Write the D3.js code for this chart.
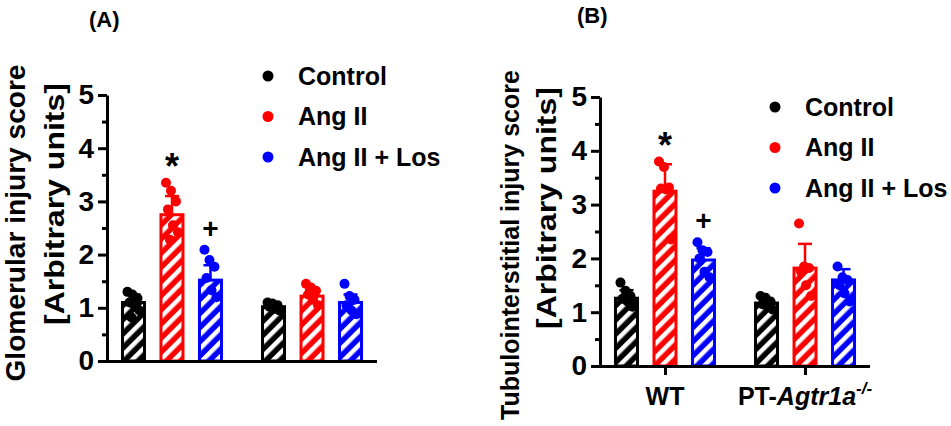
<!DOCTYPE html>
<html>
<head>
<meta charset="utf-8">
<script src="https://cdn.jsdelivr.net/npm/d3@7"></script>
<style>
  body { margin: 0; background: #fff; }
  svg { display: block; }
</style>
</head>
<body>
<div id="chart"></div>
<script>
// data
const series = ["Control", "Ang II", "Ang II + Los"];
const groups = ["WT", "PT"];
const yTicks = [0, 1, 2, 3, 4, 5];

// panel A: glomerular injury score
const meanA = [[1.10, 2.75, 1.52], [1.02, 1.22, 1.10]];
const sdA = [[0.15, 0.35, 0.28], [0.05, 0.12, 0.15]];
const pointsA = [
  [[1.30, 1.25, 1.18, 1.10, 1.05, 0.95, 0.82], [3.35, 3.20, 3.00, 2.85, 2.55, 2.42, 2.28], [2.09, 1.90, 1.77, 1.56, 1.33, 1.20]],
  [[1.10, 1.08, 1.05, 1.02, 0.98, 0.95], [1.45, 1.38, 1.32, 1.25, 1.15, 1.05], [1.45, 1.22, 1.15, 1.05, 0.95, 0.88]]
];

// panel B: tubulointerstitial injury score
const meanB = [[1.26, 3.25, 1.97], [1.17, 1.82, 1.60]];
const sdB = [[0.15, 0.50, 0.22], [0.08, 0.45, 0.20]];
const pointsB = [
  [[1.55, 1.40, 1.30, 1.25, 1.20, 1.10], [3.80, 3.70, 3.32, 3.30, 3.28, 2.35], [2.30, 2.15, 2.12, 2.00, 1.75, 1.65]],
  [[1.30, 1.27, 1.20, 1.15, 1.10, 1.05], [2.65, 1.85, 1.82, 1.75, 1.50, 1.30], [1.85, 1.65, 1.60, 1.50, 1.35, 1.20]]
];

const colors = ["#000000", "#ff0000", "#0000ff"];
const font = "'Liberation Sans', Arial, Helvetica, sans-serif";

let svg = d3.select("#chart").append("svg")
  .attr("width", 951)
  .attr("height", 426)
  .style("font-family", font);

// hatch patterns (white "/" stripes over the series colour)
let defs = svg.append("defs");
colors.forEach((c, i) => {
  let p = defs.append("pattern")
    .attr("id", "hatch-" + i)
    .attr("patternUnits", "userSpaceOnUse")
    .attr("width", 10).attr("height", 10)
    .attr("patternTransform", "rotate(45)");
  p.append("rect").attr("width", 10).attr("height", 10).attr("fill", c);
  p.append("rect").attr("width", 4.5).attr("height", 10).attr("fill", "#fff");
});

function drawPanel(cfg) {
  let g = svg.append("g").attr("transform", "translate(" + cfg.x0 + ",0)");
  let y = d3.scaleLinear().domain([0, 5]).range([cfg.y0, cfg.yTop]);
  let x = d3.scalePoint().domain(groups).range([0, 270]).padding(0.464);
  let xs = d3.scalePoint().domain(series).range([-38.5, 38.5]);

  // bars
  cfg.mean.forEach((row, gi) => {
    row.forEach((m, si) => {
      let cx = x(groups[gi]) + xs(series[si]);
      g.append("rect")
        .attr("x", cx - 11)
        .attr("y", y(m))
        .attr("width", 22)
        .attr("height", y(0) - y(m))
        .attr("fill", "url(#hatch-" + si + ")")
        .attr("stroke", colors[si])
        .attr("stroke-width", 3);
      // error bar (upper only)
      let top = y(m + cfg.sd[gi][si]);
      g.append("line")
        .attr("x1", cx).attr("x2", cx)
        .attr("y1", y(m)).attr("y2", top)
        .attr("stroke", colors[si]).attr("stroke-width", 2.5);
      g.append("line")
        .attr("x1", cx - 7).attr("x2", cx + 7)
        .attr("y1", top).attr("y2", top)
        .attr("stroke", colors[si]).attr("stroke-width", 2.5);
      // individual points
      g.selectAll(null)
        .data(cfg.points[gi][si])
        .enter().append("circle")
        .attr("cx", (d, i) => cx + ((i * 5) % 13) - 6)
        .attr("cy", d => y(d))
        .attr("r", 5)
        .attr("fill", colors[si]);
    });
  });

  // y axis
  let yAxis = g.append("g")
    .call(d3.axisLeft(y).tickValues(yTicks).tickFormat(d3.format("d"))
      .tickSize(9).tickSizeOuter(0).tickPadding(4));
  yAxis.select(".domain").attr("stroke-width", 3);
  yAxis.selectAll(".tick line").attr("stroke-width", 3);
  yAxis.selectAll("text")
    .attr("font-size", 28).attr("font-weight", "bold").attr("font-family", font);
  let minor = g.append("g")
    .call(d3.axisLeft(y).tickValues(d3.range(0.5, 5, 1)).tickSize(5).tickFormat(""));
  minor.select(".domain").remove();
  minor.selectAll(".tick line").attr("stroke-width", 3);

  // x axis
  let xAxis = g.append("g")
    .attr("transform", "translate(0," + cfg.y0 + ")")
    .call(d3.axisBottom(x).tickSize(cfg.xLabels ? 9 : 0).tickSizeOuter(0));
  xAxis.select(".domain").attr("stroke-width", 3).attr("d", "M-1.5,0.5H270");
  xAxis.selectAll(".tick line").attr("stroke-width", 3);
  xAxis.selectAll("text").remove();
  if (cfg.xLabels) {
    g.append("text")
      .attr("x", x("WT")).attr("y", cfg.y0 + 39)
      .attr("text-anchor", "middle")
      .attr("font-size", 25).attr("font-weight", "bold")
      .text("WT");
    let pt = g.append("text")
      .attr("x", x("PT")).attr("y", cfg.y0 + 39)
      .attr("text-anchor", "middle")
      .attr("font-size", 25).attr("font-weight", "bold");
    pt.append("tspan").text("PT-");
    pt.append("tspan").attr("font-style", "italic").text("Agtr1a");
    pt.append("tspan").attr("font-style", "italic").attr("font-size", 17).attr("dy", -11).text("-/-");
  }

  // significance marks
  cfg.marks.forEach(mk => {
    let cx = x(groups[mk.g]) + xs(series[mk.s]);
    let top = y(d3.max(cfg.points[mk.g][mk.s]));
    g.append("text")
      .attr("x", cx).attr("y", mk.sym === "*" ? top - 4 : top - 12)
      .attr("text-anchor", "middle")
      .attr("font-size", mk.sym === "*" ? 36 : 28).attr("font-weight", "bold")
      .text(mk.sym);
  });

  // legend
  series.forEach((s, i) => {
    let ly = cfg.legendY + i * 40.5;
    svg.append("circle")
      .attr("cx", cfg.legendX).attr("cy", ly).attr("r", 5.5)
      .attr("fill", colors[i]);
    svg.append("text")
      .attr("x", cfg.legendX + 30).attr("y", ly).attr("dy", "0.35em")
      .attr("font-size", 25).attr("font-weight", "bold")
      .text(s);
  });

  // y label (two lines)
  svg.append("text")
    .attr("transform", "translate(" + cfg.lab1X + "," + cfg.lab1Y + ") rotate(-90)")
    .attr("text-anchor", "middle")
    .attr("font-size", cfg.lab1Size).attr("font-weight", "bold")
    .attr("textLength", cfg.lab1Len).attr("lengthAdjust", "spacingAndGlyphs")
    .text(cfg.title1);
  svg.append("text")
    .attr("transform", "translate(" + cfg.lab2X + "," + cfg.lab2Y + ") rotate(-90)")
    .attr("text-anchor", "middle")
    .attr("font-size", 27).attr("font-weight", "bold")
    .attr("textLength", 242).attr("lengthAdjust", "spacingAndGlyphs")
    .text("[Arbitrary units]");

  // panel letter
  svg.append("text")
    .attr("x", cfg.letterX).attr("y", cfg.letterY)
    .attr("font-size", 22).attr("font-weight", "bold")
    .text(cfg.letter);
}

drawPanel({
  x0: 107, y0: 361, yTop: 95,
  mean: meanA, sd: sdA, points: pointsA,
  xLabels: false,
  marks: [{ g: 0, s: 1, sym: "*" }, { g: 0, s: 2, sym: "+" }],
  legendX: 268, legendY: 76,
  title1: "Glomerular injury score", lab1X: 25, lab1Y: 223, lab1Size: 27, lab1Len: 317,
  lab2X: 64, lab2Y: 204,
  letter: "(A)", letterX: 89, letterY: 27
});

drawPanel({
  x0: 600, y0: 366, yTop: 97,
  mean: meanB, sd: sdB, points: pointsB,
  xLabels: true,
  marks: [{ g: 0, s: 1, sym: "*" }, { g: 0, s: 2, sym: "+" }],
  legendX: 775, legendY: 107,
  title1: "Tubulointerstitial injury score", lab1X: 519, lab1Y: 245, lab1Size: 25, lab1Len: 350,
  lab2X: 556, lab2Y: 208,
  letter: "(B)", letterX: 577, letterY: 23
});
</script>
</body>
</html>
